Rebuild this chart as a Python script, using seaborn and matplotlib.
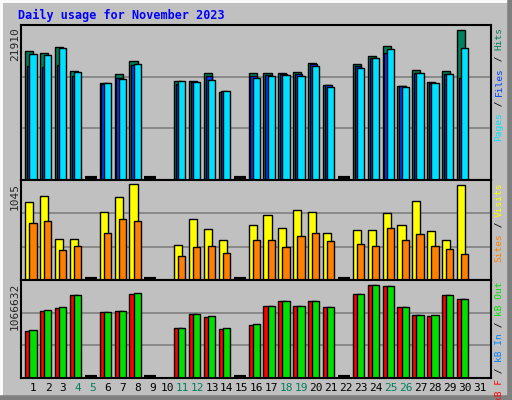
import numpy as np
import matplotlib
matplotlib.use("Agg")
import matplotlib.pyplot as plt
import seaborn as sns

sns.set_style("white")
plt.rcParams['font.family'] = ['DejaVu Sans Mono', 'DejaVu Sans']

days = list(range(1, 32))
weekend = [4, 5, 11, 12, 18, 19, 25, 26]
N = np.nan
# values (NaN = no data)
hits  = [18870,18570,19460,15880,0,14240,15480,17380,0,N,14540,14540,15640,12810,0,15590,
         15640,15640,15790,17140,13900,0,16990,18190,19650,13760,16140,14390,15890,21910,N]
files = [16690,16540,16840,15200,0,14010,14910,16840,0,N,14010,14310,15200,12970,0,15200,
         15350,15500,15500,16990,13860,0,16690,17880,18630,13710,15650,14160,15500,14910,N]
pages = [18430,18280,19360,15790,0,14110,14710,16940,0,N,14410,14260,14560,12960,0,14960,
         15200,15350,15200,16690,13610,0,16390,17880,19080,13560,15640,14160,15500,19230,N]
visits= [852,920,443,443,0,739,909,1045,0,N,386,670,557,432,0,602,705,568,761,739,511,0,
         545,545,727,602,864,534,432,1034,N]
sites = [625,648,330,375,0,511,670,648,0,N,261,363,375,295,0,432,432,363,477,511,420,0,
         398,375,568,432,500,375,341,284,N]
kbf   = [539900,773000,808100,949000,0,761300,773000,960700,0,N,574900,738000,702800,562200,0,609100,
         831500,878400,831500,878400,820000,0,960700,1066632,1054900,820000,726300,714600,949000,902100,N]
kbout = [551600,784700,819800,949000,0,761300,773000,972400,0,N,574900,738000,714600,574900,0,620800,
         831500,878400,831500,878400,820000,0,960700,1066632,1054900,820000,726300,726300,949000,902100,N]

W, H = 512, 400
fig = plt.figure(figsize=(W/100, H/100), dpi=100, facecolor='#c0c0c0')

def ax_at(top, bot):
    a = fig.add_axes([20.7/W, 1-bot/H, (491-20.7)/W, (bot-top)/H])
    a.set_facecolor('#c0c0c0')
    for s in a.spines.values():
        s.set_color('black'); s.set_linewidth(1.5)
    a.set_xlim(0.154, 31.74)
    a.set_xticks([]); a.set_yticks([])
    return a

d = np.array(days, dtype=float)

def panel(a, series, cols, offs, wids, vmax, frac):
    top = vmax / frac
    a.set_ylim(0, top)
    for g in (top/3, 2*top/3):
        a.axhline(g, color='#808080', lw=1.2, zorder=0)
    for vals, c, o, w in zip(series, cols, offs, wids):
        v = np.array(vals, dtype=float)
        m = v > 0
        a.bar(d[m] + o, v[m], width=w, align='edge', color=c, edgecolor='black', lw=1, zorder=2)
    z = np.array(series[0], dtype=float) == 0
    a.hlines(np.zeros(z.sum()) + top*0.012, d[z] - 0.54, d[z] + 0.27, color='black', lw=3, zorder=3)

a1 = ax_at(25, 180)
panel(a1, [hits, files, pages], ['#00805c', '#0040ff', '#00e0ff'],
      [-0.54, -0.42, -0.27], [0.54, 0.45, 0.49], 21910, 147/152)
a2 = ax_at(180, 280)
panel(a2, [visits, sites], ['#ffff00', '#ff8000'], [-0.54, -0.27], [0.54, 0.49], 1045, 92/96)
a3 = ax_at(280, 378)
panel(a3, [kbf, kbout], ['#ff0000', '#00e000'], [-0.54, -0.27], [0.54, 0.49], 1066632, 91/96)

for x in days:
    c = '#00805c' if x in weekend else 'black'
    a3.text(x, -0.1, str(x), transform=a3.get_xaxis_transform(), ha='center', va='center',
            fontsize=8, color=c)

fig.text(18/W, 1-15/H, 'Daily usage for November 2023', color='#0000ff', fontsize=8.5,
         fontweight='bold', va='center', ha='left')
for txt, y in [('21910', 27), ('1045', 183), ('1066632', 283)]:
    fig.text(15/W, 1-y/H, txt, rotation=90, ha='center', va='top', fontsize=8)

FS = 6.8
CW = 0.602 * FS * 100 / 72

def rlabel(parts, ytop):
    # parts listed bottom-to-top in reading order; draw from the top down
    y = ytop
    for t, c in reversed(parts):
        fig.text(499/W, 1-y/H, t, rotation=90, color=c, ha='center', va='top', fontsize=FS)
        y += len(t) * CW

rlabel([('Pages', '#00e0ff'), (' / ', 'black'), ('Files', '#0040ff'), (' / ', 'black'), ('Hits', '#00805c')], 27)
rlabel([('Sites', '#ff8000'), (' / ', 'black'), ('Visits', '#ffff00')], 182)
rlabel([('kB F', '#ff0000'), (' / ', 'black'), ('kB In', '#0080ff'), (' / ', 'black'), ('kB Out', '#00e000')], 282)

# 3D frame
fig.add_artist(plt.Line2D([0, 1], [1-1/H, 1-1/H], color='white', lw=2))
fig.add_artist(plt.Line2D([1/W, 1/W], [0, 1], color='white', lw=2))
fig.add_artist(plt.Line2D([0, 1], [2/H, 2/H], color='#808080', lw=4))
fig.add_artist(plt.Line2D([1-2/W, 1-2/W], [0, 1], color='#808080', lw=4))

fig.savefig('out.png', dpi=100, facecolor=fig.get_facecolor())
